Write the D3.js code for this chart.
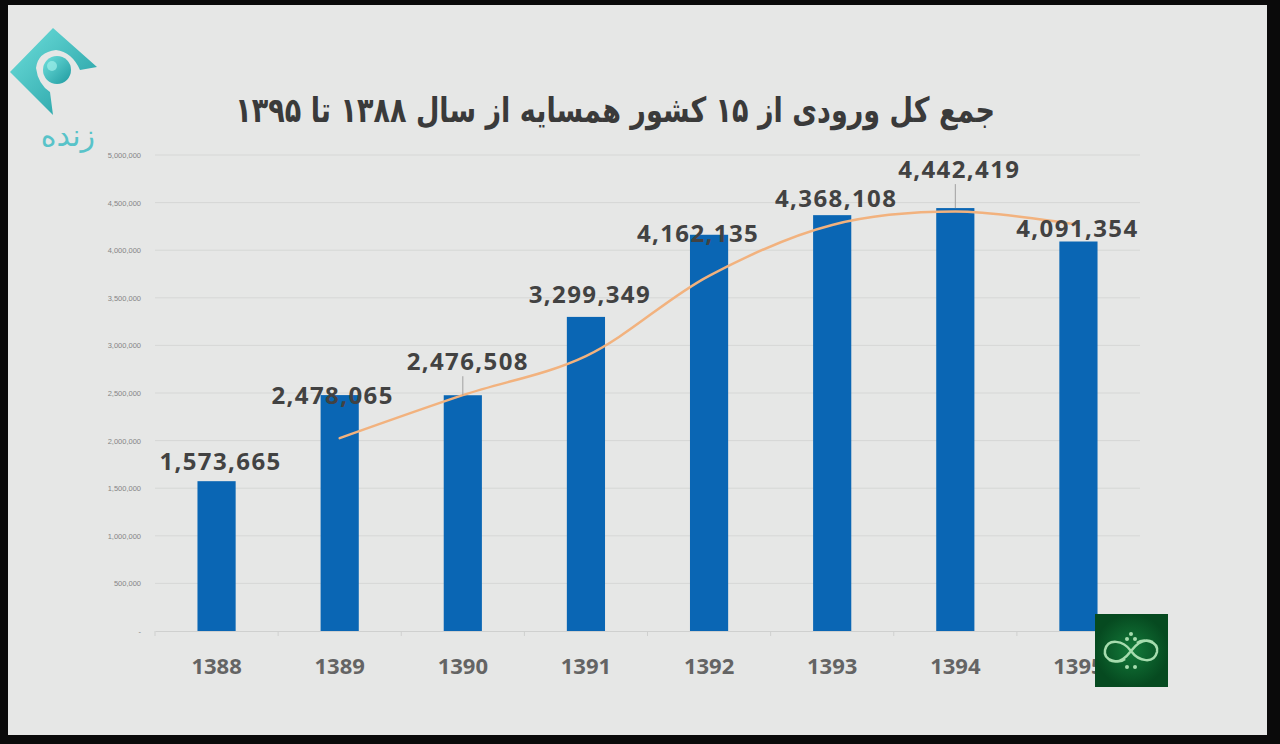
<!DOCTYPE html>
<html>
<head>
<meta charset="utf-8">
<script src="https://cdn.jsdelivr.net/npm/d3@7"></script>
<style>
  html, body { margin: 0; padding: 0; background: #0a0a0a; }
  svg { display: block; }
</style>
</head>
<body>
<svg id="chart" width="1280" height="744"></svg>
<script>
// ---------------- data ----------------
const title = "جمع کل ورودی از ۱۵ کشور همسایه از سال ۱۳۸۸ تا ۱۳۹۵";
const years = ["1388", "1389", "1390", "1391", "1392", "1393", "1394", "1395"];
const totals = [1573665, 2478065, 2476508, 3299349, 4162135, 4368108, 4442419, 4091354];
// 2-period moving average trend line (starts at 1389)
const trendYears = ["1389", "1390", "1391", "1392", "1393", "1394", "1395"];
const trendValues = [2025865, 2477287, 2887929, 3730742, 4265122, 4405264, 4266887];
const yTicks = [0, 500000, 1000000, 1500000, 2000000, 2500000, 3000000, 3500000, 4000000, 4500000, 5000000];

// ---------------- layout ----------------
const W = 1280, H = 744;
const plot = { left: 155, right: 1140, top: 155, bottom: 631 };
// label nudges [dx, dy relative to bar top for baseline, leader line]
const labelNudge = [[4, -11, 0], [-7, 9, 0], [5, -25, 1], [4, -14, 0], [-11, 7, 0], [4, -8, 0], [4, -30, 1], [-1, -5, 0]];

const svg = d3.select("#chart");
const defs = svg.append("defs");

// screen frame
svg.append("rect").attr("x", 0).attr("y", 0).attr("width", W).attr("height", H).attr("fill", "#0a0a0a");
svg.append("rect").attr("x", 8).attr("y", 5).attr("width", 1259).attr("height", 730).attr("fill", "#e6e7e6");

const x = d3.scaleBand().domain(years).range([plot.left, plot.right]).paddingInner(0.69).paddingOuter(0.345);
const y = d3.scaleLinear().domain([0, 5000000]).range([plot.bottom, plot.top]);

// gridlines
svg.append("g").selectAll("line").data(yTicks.filter(d => d > 0)).join("line")
  .attr("x1", plot.left).attr("x2", plot.right)
  .attr("y1", d => y(d)).attr("y2", d => y(d))
  .attr("stroke", "#d6d7d6").attr("stroke-width", 1);

// y axis labels
const yAxis = d3.axisLeft(y).tickValues(yTicks).tickSize(0).tickPadding(0)
  .tickFormat(d => d === 0 ? "-" : d3.format(",")(d));
const gy = svg.append("g").attr("transform", `translate(${141},0)`).call(yAxis);
gy.select(".domain").remove();
gy.selectAll("text").attr("fill", "#858585").attr("font-size", 7.5)
  .attr("font-family", "Liberation Sans, Arial, sans-serif");

// x axis
const xAxis = d3.axisBottom(x).tickSize(0).tickPadding(0);
const gx = svg.append("g").attr("transform", `translate(0,${plot.bottom})`).call(xAxis);
gx.select(".domain").attr("stroke", "#cfd0cf").attr("stroke-width", 1);
gx.selectAll("text").attr("fill", "#646464").attr("font-size", 22).attr("font-weight", "bold")
  .attr("font-family", "Open Sans, sans-serif").attr("dy", 0).attr("y", 43);
// category boundary tick marks
const bounds = years.map(d => x(d) - x.step() * x.paddingInner() / 2).concat([plot.right]);
svg.append("g").selectAll("line").data(bounds).join("line")
  .attr("x1", d => d).attr("x2", d => d)
  .attr("y1", plot.bottom).attr("y2", plot.bottom + 5)
  .attr("stroke", "#cfd0cf");

// bars
svg.append("g").selectAll("rect").data(totals).join("rect")
  .attr("x", (d, i) => x(years[i]))
  .attr("y", d => y(d))
  .attr("width", x.bandwidth())
  .attr("height", d => plot.bottom - y(d))
  .attr("fill", "#0a66b4");

// trend line
const line = d3.line()
  .x((d, i) => x(trendYears[i]) + x.bandwidth() / 2)
  .y(d => y(d))
  .curve(d3.curveCatmullRom.alpha(0.5));
svg.append("path").datum(trendValues)
  .attr("d", line)
  .attr("fill", "none")
  .attr("stroke", "#f2b27e")
  .attr("stroke-width", 2.5)
  .attr("stroke-linecap", "round");

// data labels
const fmt = d3.format(",");
const lg = svg.append("g");
totals.forEach((v, i) => {
  const cx = x(years[i]) + x.bandwidth() / 2;
  const top = y(v);
  const [dx, dy, leader] = labelNudge[i];
  if (leader) {
    lg.append("line").attr("x1", cx).attr("x2", cx)
      .attr("y1", top + dy + 6).attr("y2", top)
      .attr("stroke", "#a0a0a0").attr("stroke-width", 1);
  }
  lg.append("text")
    .attr("x", cx + dx).attr("y", top + dy)
    .attr("text-anchor", "middle")
    .attr("font-family", "Open Sans, sans-serif")
    .attr("font-weight", "bold")
    .attr("font-size", 24)
    .attr("letter-spacing", 1.4)
    .attr("fill", "#424242")
    .text(fmt(v));
});

// title (horizontally condensed to match the reference width)
svg.append("g").attr("transform", "translate(995,122) scale(0.82,1.05)")
  .append("text")
  .attr("x", 0).attr("y", 0)
  .attr("text-anchor", "start")
  .attr("direction", "rtl")
  .attr("font-family", "DejaVu Sans, sans-serif")
  .attr("font-weight", "bold")
  .attr("font-size", 33)
  .attr("fill", "#3a3a3a")
  .text(title);

// top-left channel logo
const logo = svg.append("g");
const tg = defs.append("linearGradient").attr("id", "teal").attr("x1", 0).attr("y1", 0).attr("x2", 1).attr("y2", 1);
tg.append("stop").attr("offset", "0%").attr("stop-color", "#6fe0dc");
tg.append("stop").attr("offset", "100%").attr("stop-color", "#1f9aa0");
logo.append("path")
  .attr("d", "M53,28 L97,67 L80,70 Q72,52 56,50 Q38,52 36,68 Q38,84 50,92 L53,115 L10,72 Z")
  .attr("fill", "url(#teal)");
logo.append("circle").attr("cx", 57).attr("cy", 70).attr("r", 14).attr("fill", "url(#teal)");
logo.append("circle").attr("cx", 52).attr("cy", 66).attr("r", 5).attr("fill", "#9ff0ea").attr("opacity", 0.7);
logo.append("text").attr("x", 95).attr("y", 146).attr("text-anchor", "start").attr("direction", "rtl")
  .attr("font-family", "DejaVu Sans, sans-serif").attr("font-size", 30).attr("fill", "#58c3c9")
  .attr("letter-spacing", 8).text("زنده");

// bottom-right logo
const gl = defs.append("radialGradient").attr("id", "green");
gl.append("stop").attr("offset", "0%").attr("stop-color", "#137a3a");
gl.append("stop").attr("offset", "100%").attr("stop-color", "#064a20");
const br = svg.append("g").attr("transform", "translate(1095,614)");
br.append("rect").attr("width", 73).attr("height", 73).attr("fill", "url(#green)");
br.append("path")
  .attr("d", "M36,37 C28,26 13,24 10,36 C8,47 24,50 30,45 M36,37 C44,48 59,50 62,38 C64,27 48,24 42,29 M36,37 C30,45 22,50 14,46 M36,37 C42,29 50,24 58,28")
  .attr("fill", "none").attr("stroke", "#a6dcae").attr("stroke-width", 2.5);
[[36, 20], [32, 25], [40, 25], [32, 53], [40, 53]].forEach(([cx, cy]) =>
  br.append("circle").attr("cx", cx).attr("cy", cy).attr("r", 2).attr("fill", "#a6dcae"));
</script>
</body>
</html>
